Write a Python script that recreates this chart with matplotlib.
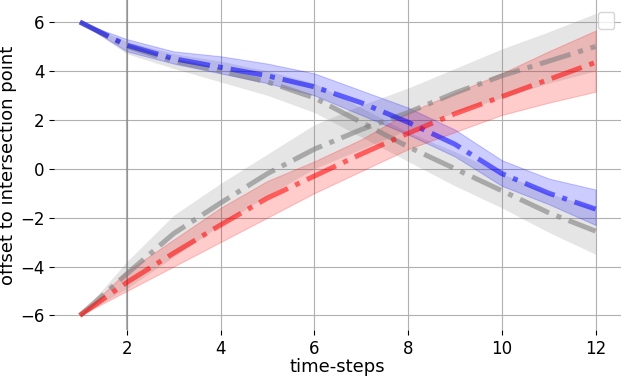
import matplotlib
matplotlib.use('Agg')
from matplotlib import pyplot as plt
import numpy as np

# time-steps
steps = [1, 2, 3, 4, 5, 6, 7, 8, 9, 10, 11, 12]

# blue (going down)
blue_mean = [6.0, 5.05, 4.5, 4.15, 3.8, 3.35, 2.7, 1.9, 1.0, -0.2, -1.0, -1.65]
blue_low = [6.0, 4.8, 4.3, 3.9, 3.5, 3.0, 2.2, 1.4, 0.5, -0.7, -1.45, -2.3]
blue_high = [6.0, 5.3, 4.8, 4.6, 4.3, 3.9, 3.2, 2.5, 1.6, 0.35, -0.4, -0.85]

# gray reference (going down)
gdown_mean = [6.0, 5.0, 4.4, 4.0, 3.55, 2.9, 1.9, 0.9, 0.0, -0.9, -1.8, -2.55]
gdown_low = [6.0, 4.7, 4.1, 3.55, 3.0, 2.3, 1.3, 0.3, -0.7, -1.6, -2.6, -3.5]
gdown_high = [6.0, 5.2, 4.7, 4.4, 4.0, 3.5, 2.5, 1.5, 0.7, -0.2, -1.0, -1.6]

# red (going up)
red_mean = [-6.0, -4.65, -3.45, -2.3, -1.2, -0.3, 0.6, 1.45, 2.25, 2.95, 3.65, 4.35]
red_low = [-6.0, -5.0, -4.0, -3.0, -2.0, -1.0, -0.1, 0.8, 1.5, 2.2, 2.7, 3.15]
red_high = [-6.0, -4.2, -2.9, -1.6, -0.5, 0.3, 1.2, 2.3, 3.1, 3.9, 4.8, 5.65]

# gray reference (going up)
gup_mean = [-6.0, -4.3, -2.65, -1.4, -0.2, 0.8, 1.6, 2.3, 3.1, 3.8, 4.4, 5.0]
gup_low = [-6.0, -4.9, -3.6, -2.3, -1.1, 0.0, 0.8, 1.6, 2.3, 2.9, 3.5, 4.0]
gup_high = [-6.0, -3.8, -1.9, -0.6, 0.6, 1.8, 2.6, 3.3, 4.1, 4.9, 5.6, 6.35]

fig, ax = plt.subplots(figsize=(6.22, 3.76), dpi=100)
fig.subplots_adjust(left=0.087, right=0.999, top=1.0, bottom=0.122)

ax.grid(True, color='#b0b0b0', linewidth=0.8)
ax.set_axisbelow(True)
ax.axvline(2, color='gray', linewidth=1.5, alpha=0.6)

ax.fill_between(steps, gdown_low, gdown_high, color='gray', alpha=0.2, linewidth=0)
ax.plot(steps, gdown_mean, color='gray', linestyle='-.', linewidth=3.6, alpha=0.6)
ax.fill_between(steps, gup_low, gup_high, color='gray', alpha=0.2, linewidth=0)
ax.plot(steps, gup_mean, color='gray', linestyle='-.', linewidth=3.6, alpha=0.6)

ax.fill_between(steps, blue_low, blue_high, color='blue', alpha=0.2, linewidth=0.8)
ax.plot(steps, blue_mean, color='blue', linestyle='-.', linewidth=3.6, alpha=0.55)
ax.fill_between(steps, red_low, red_high, color='red', alpha=0.2, linewidth=0.8)
ax.plot(steps, red_mean, color='red', linestyle='-.', linewidth=3.6, alpha=0.55)

for s in ax.spines.values():
    s.set_visible(False)

ax.set_ylim(-6.6, 6.9)
ax.set_xticks([2, 4, 6, 8, 10, 12])
ax.set_yticks([-6, -4, -2, 0, 2, 4, 6])
ax.tick_params(labelsize=12)
ax.set_xlabel('time-steps', fontsize=13, labelpad=0)
ax.set_ylabel('offset to intersection point', fontsize=13, labelpad=2)

ax.legend(loc='upper right', borderpad=0.6, bbox_to_anchor=(1.0, 0.985))

fig.savefig('out.png', dpi=100)
